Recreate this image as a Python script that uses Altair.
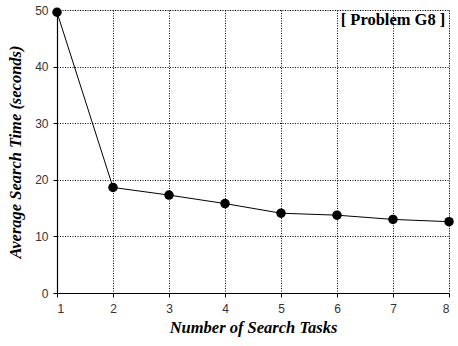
import altair as alt
import pandas as pd

tasks = [1, 2, 3, 4, 5, 6, 7, 8]
avg_time = [49.6, 18.65, 17.3, 15.8, 14.1, 13.75, 13.0, 12.6]

label_text = ["[ Problem G8 ]"]
label_x = [7]
label_y = [48.3]

df = pd.DataFrame({"tasks": tasks, "time": avg_time})
lab = pd.DataFrame({"text": label_text, "x": label_x, "y": label_y})

serif = "Liberation Serif"
sans = "Liberation Sans"

x_enc = alt.X(
    "tasks:Q",
    scale=alt.Scale(domain=[1, 8], nice=False, zero=False),
    axis=alt.Axis(
        title="Number of Search Tasks",
        values=tasks,
        format="d",
        titleFont=serif, titleFontStyle="italic", titleFontWeight="bold",
        titleFontSize=16.5, titleColor="black", titlePadding=5,
        labelFont=sans, labelFontSize=12, labelColor="#333", labelPadding=6,
        tickSize=4, tickColor="black", domainColor="black", domainWidth=1.2,
        grid=True, gridColor="black", gridDash=[1, 1.5], gridWidth=1,
    ),
)
y_enc = alt.Y(
    "time:Q",
    scale=alt.Scale(domain=[0, 50], nice=False),
    axis=alt.Axis(
        title="Average Search Time (seconds)",
        values=[0, 10, 20, 30, 40, 50],
        titleFont=serif, titleFontStyle="italic", titleFontWeight="bold",
        titleFontSize=16.5, titleColor="black", titlePadding=11,
        labelFont=sans, labelFontSize=12, labelColor="#333", labelPadding=5,
        tickSize=4, tickColor="black", domainColor="black", domainWidth=1.2,
        grid=True, gridColor="black", gridDash=[1, 1.5], gridWidth=1,
    ),
)

line = alt.Chart(df).mark_line(color="black", strokeWidth=1).encode(x=x_enc, y=y_enc)
pts = alt.Chart(df).mark_point(filled=True, color="black", size=90, opacity=1).encode(
    x="tasks:Q", y="time:Q"
)
label = alt.Chart(lab).mark_text(
    font=serif, fontWeight="bold", fontSize=16.5, color="black",
    align="center", baseline="middle",
).encode(x="x:Q", y="y:Q", text="text:N")

chart = (
    alt.layer(line, pts, label)
    .properties(
        width=392, height=283,
        autosize=alt.AutoSizeParams(type="none"),
        padding={"left": 57, "top": 10, "right": 9, "bottom": 53},
    )
    .configure_view(stroke=None)
    .configure(background="white")
)

chart.save("out.html", embed_options={"renderer": "svg", "actions": False})
